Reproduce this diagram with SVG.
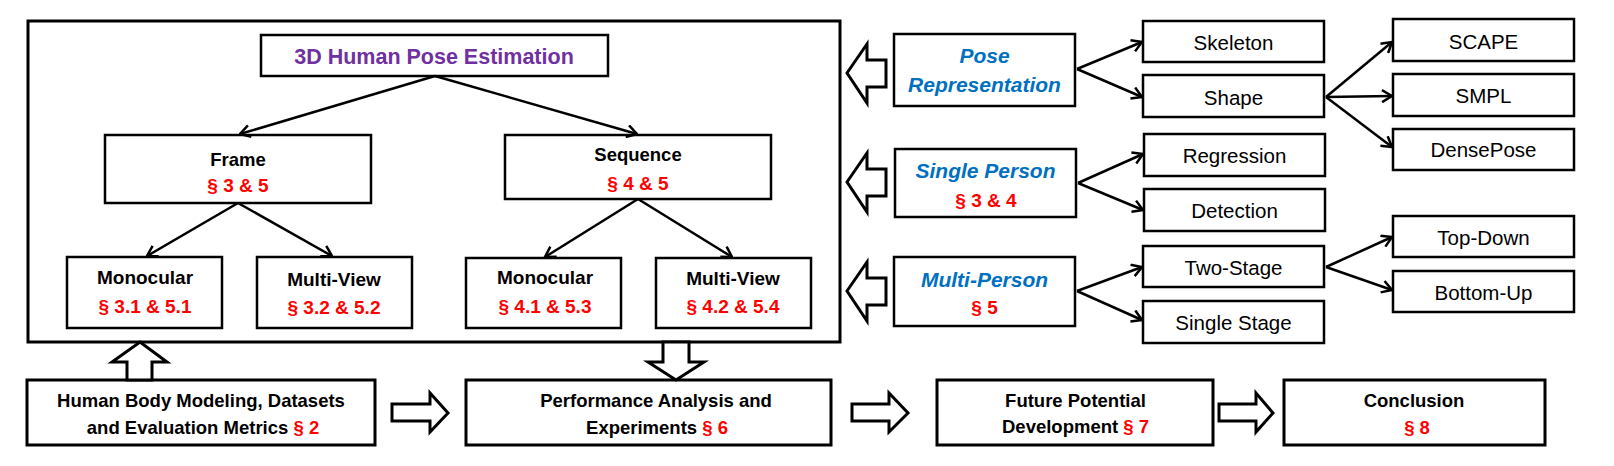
<svg xmlns="http://www.w3.org/2000/svg" width="1614" height="466" viewBox="0 0 1614 466">
<style>
.box{fill:#fff;stroke:#000;stroke-width:2.5}
.bbox{fill:#fff;stroke:#000;stroke-width:3}
.conn{stroke:#000;stroke-width:2.5;fill:none;marker-end:url(#ah)}
.hollow{fill:#fff;stroke:#000;stroke-width:3;stroke-linejoin:miter}
text{font-family:"Liberation Sans",Arial,sans-serif;text-anchor:middle}
.b{font-weight:bold;font-size:18.5px;fill:#000}
.b19{font-weight:bold;font-size:19px;fill:#000}
.sec{font-weight:bold;fill:#ff0000}
.t{font-size:20.5px;fill:#000}
.blue{font-weight:bold;font-style:italic;font-size:21px;fill:#0070c0}
.purple{font-weight:bold;font-size:21.5px;fill:#7030a0}
</style>
<defs>
<marker id="ah" viewBox="0 0 12 14" refX="11" refY="7" markerWidth="12" markerHeight="14" markerUnits="userSpaceOnUse" orient="auto">
<path d="M1,1 L11,7 L1,13" fill="none" stroke="#000" stroke-width="2.5"/>
</marker>
</defs>
<g id="main-frame"><rect class="bbox" x="28" y="21" width="812" height="321"/></g>
<g id="hpe"><rect class="box" x="261" y="35" width="347" height="41"/><text class="purple" x="434" y="64">3D Human Pose Estimation</text></g>
<g id="frame"><rect class="box" x="105" y="135" width="266" height="68"/><text class="b" x="238" y="165.5">Frame</text><text class="sec" font-size="19" x="238" y="192">§ 3 &amp; 5</text></g>
<g id="sequence"><rect class="box" x="505" y="135" width="266" height="64"/><text class="b" x="638" y="161">Sequence</text><text class="sec" font-size="19" x="638" y="190">§ 4 &amp; 5</text></g>
<g id="mono1"><rect class="box" x="67" y="257" width="155" height="71"/><text class="b19" x="145" y="284">Monocular</text><text class="sec" font-size="19" x="145" y="313">§ 3.1 &amp; 5.1</text></g>
<g id="mv1"><rect class="box" x="257" y="257" width="155" height="71"/><text class="b19" x="334" y="286">Multi-View</text><text class="sec" font-size="19" x="334" y="314">§ 3.2 &amp; 5.2</text></g>
<g id="mono2"><rect class="box" x="466" y="258" width="155" height="70"/><text class="b19" x="545" y="284">Monocular</text><text class="sec" font-size="19" x="545" y="313">§ 4.1 &amp; 5.3</text></g>
<g id="mv2"><rect class="box" x="656" y="258" width="155" height="70"/><text class="b19" x="733" y="285">Multi-View</text><text class="sec" font-size="19" x="733" y="313">§ 4.2 &amp; 5.4</text></g>
<g id="pose-rep"><rect class="box" x="894" y="34" width="181" height="72"/><text class="blue" x="984.5" y="63">Pose</text><text class="blue" x="984.5" y="92">Representation</text></g>
<g id="single-person"><rect class="box" x="895" y="149" width="181" height="68"/><text class="blue" x="985.5" y="178">Single Person</text><text class="sec" font-size="19" x="986" y="207">§ 3 &amp; 4</text></g>
<g id="multi-person"><rect class="box" x="894" y="257" width="181" height="69"/><text class="blue" x="984.5" y="287">Multi-Person</text><text class="sec" font-size="19" x="984.5" y="314">§ 5</text></g>
<g id="skeleton"><rect class="box" x="1143" y="21" width="181" height="41"/><text class="t" x="1233.5" y="50">Skeleton</text></g>
<g id="shape"><rect class="box" x="1143" y="75" width="181" height="42"/><text class="t" x="1233.5" y="105">Shape</text></g>
<g id="regression"><rect class="box" x="1144" y="134" width="181" height="42"/><text class="t" x="1234.5" y="163">Regression</text></g>
<g id="detection"><rect class="box" x="1144" y="189" width="181" height="42"/><text class="t" x="1234.5" y="218">Detection</text></g>
<g id="two-stage"><rect class="box" x="1143" y="246" width="181" height="41"/><text class="t" x="1233.5" y="275">Two-Stage</text></g>
<g id="single-stage"><rect class="box" x="1143" y="301" width="181" height="42"/><text class="t" x="1233.5" y="330">Single Stage</text></g>
<g id="scape"><rect class="box" x="1393" y="19" width="181" height="42"/><text class="t" x="1483.5" y="49">SCAPE</text></g>
<g id="smpl"><rect class="box" x="1393" y="74" width="181" height="42"/><text class="t" x="1483.5" y="103">SMPL</text></g>
<g id="densepose"><rect class="box" x="1393" y="129" width="181" height="41"/><text class="t" x="1483.5" y="157">DensePose</text></g>
<g id="top-down"><rect class="box" x="1393" y="216" width="181" height="41"/><text class="t" x="1483.5" y="245">Top-Down</text></g>
<g id="bottom-up"><rect class="box" x="1393" y="271" width="181" height="41"/><text class="t" x="1483.5" y="300">Bottom-Up</text></g>
<g id="body-modeling"><rect class="bbox" x="27" y="380" width="348" height="65"/><text class="b" x="201" y="407">Human Body Modeling, Datasets</text><text class="b" x="203" y="434">and Evaluation Metrics <tspan fill="#ff0000">§ 2</tspan></text></g>
<g id="performance"><rect class="bbox" x="466" y="380" width="365" height="65"/><text class="b" x="656" y="407">Performance Analysis and</text><text class="b" x="657" y="434">Experiments <tspan fill="#ff0000">§ 6</tspan></text></g>
<g id="future"><rect class="bbox" x="937" y="380" width="276" height="65"/><text class="b" x="1075.5" y="407">Future Potential</text><text class="b" x="1075.5" y="433">Development <tspan fill="#ff0000">§ 7</tspan></text></g>
<g id="conclusion"><rect class="bbox" x="1284" y="380" width="261" height="65"/><text class="b" x="1414" y="407">Conclusion</text><text class="sec" font-size="18.5" x="1417" y="434">§ 8</text></g>
<g id="connectors">
<line class="conn" x1="435" y1="76" x2="240" y2="134"/>
<line class="conn" x1="435" y1="76" x2="637" y2="134"/>
<line class="conn" x1="238" y1="203" x2="147" y2="256"/>
<line class="conn" x1="238" y1="203" x2="332" y2="256"/>
<line class="conn" x1="638" y1="199" x2="545" y2="257"/>
<line class="conn" x1="638" y1="199" x2="732" y2="257"/>
<line class="conn" x1="1077" y1="69" x2="1142" y2="42"/>
<line class="conn" x1="1077" y1="69" x2="1142" y2="97"/>
<line class="conn" x1="1078" y1="183" x2="1143" y2="154"/>
<line class="conn" x1="1078" y1="183" x2="1143" y2="210"/>
<line class="conn" x1="1077" y1="291" x2="1142" y2="267"/>
<line class="conn" x1="1077" y1="291" x2="1142" y2="320"/>
<line class="conn" x1="1326" y1="97" x2="1392" y2="42"/>
<line class="conn" x1="1326" y1="97" x2="1392" y2="96"/>
<line class="conn" x1="1326" y1="97" x2="1392" y2="147"/>
<line class="conn" x1="1326" y1="267" x2="1392" y2="237"/>
<line class="conn" x1="1326" y1="267" x2="1392" y2="290"/>
<polygon class="hollow" points="847,73 867,44 867,60 886,60 886,87 867,87 867,103"/>
<polygon class="hollow" points="847,182 867,153 867,169 886,169 886,196 867,196 867,212"/>
<polygon class="hollow" points="847,291 867,262 867,278 886,278 886,305 867,305 867,321"/>
<polygon class="hollow" points="140,342 167,362 152,362 152,380 127,380 127,362 112,362"/>
<polygon class="hollow" points="663,342 689,342 689,362 704,362 676,380 648,362 663,362"/>
<polygon class="hollow" points="392,404 430,404 430,393 448,413 430,432 430,421 392,421"/>
<polygon class="hollow" points="852,404 889,404 889,393 908,413 889,432 889,421 852,421"/>
<polygon class="hollow" points="1219,404 1256,404 1256,393 1273,413 1256,432 1256,421 1219,421"/>
</g>
</svg>
